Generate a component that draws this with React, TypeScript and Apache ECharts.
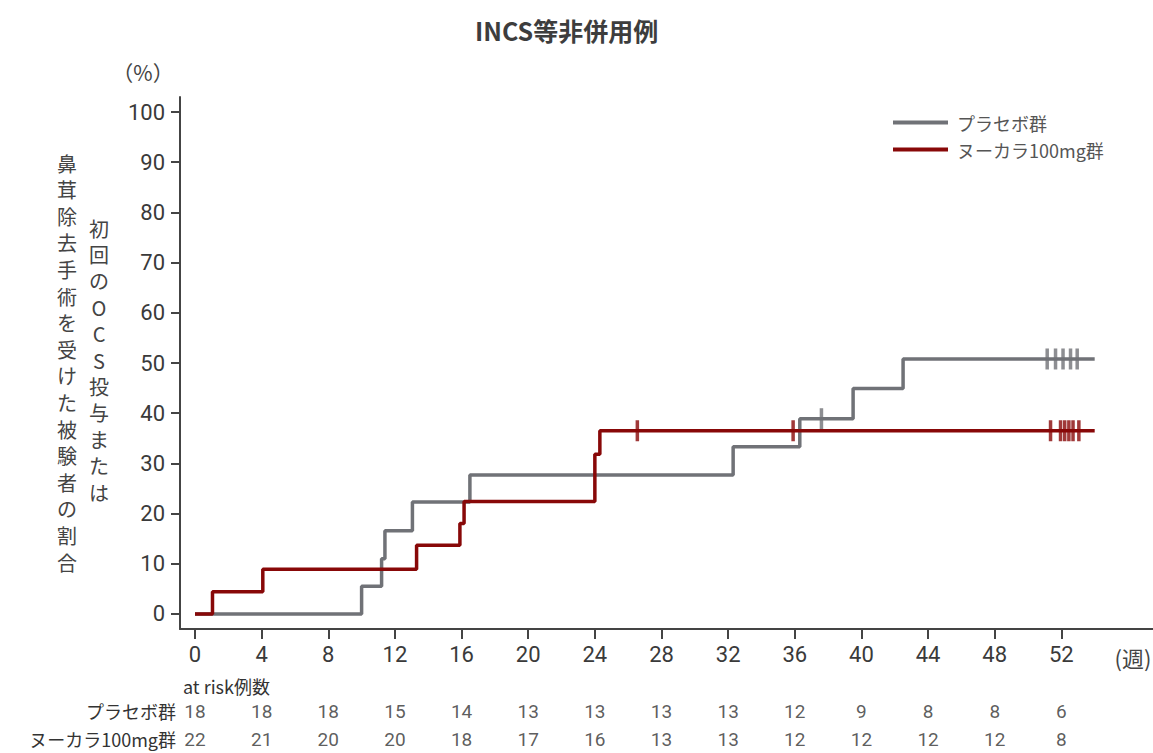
import React, { useEffect, useRef } from "react";
import * as echarts from "echarts";

const TITLE = "INCS等非併用例";
const SERIES_NAMES = ["プラセボ群", "ヌーカラ100mg群"];
const X_TICKS = [0, 4, 8, 12, 16, 20, 24, 28, 32, 36, 40, 44, 48, 52];
const Y_TICKS = [0, 10, 20, 30, 40, 50, 60, 70, 80, 90, 100];

// Kaplan-Meier style step points [week, %]
const placeboSteps: [number, number][] = [
  [0, 0], [10, 5.5], [11.2, 11.0], [11.4, 16.6], [13.05, 22.3], [16.5, 27.7],
  [32.3, 33.3], [36.3, 38.9], [39.5, 44.9], [42.5, 50.8], [54, 50.8],
];
const nucalaSteps: [number, number][] = [
  [0, 0], [1.05, 4.4], [4.07, 8.9], [13.3, 13.7], [15.9, 18.0], [16.15, 22.4],
  [24.0, 31.8], [24.3, 36.5], [54, 36.5],
];
const placeboCensor: [number, number][] = [
  [37.6, 38.9], [51.15, 50.8], [51.65, 50.8], [52.1, 50.8], [52.55, 50.8], [52.95, 50.8],
];
const nucalaCensor: [number, number][] = [
  [26.55, 36.5], [35.9, 36.5], [51.35, 36.5], [51.95, 36.5], [52.2, 36.5],
  [52.45, 36.5], [52.7, 36.5], [53.05, 36.5],
];

const riskWeeks = X_TICKS;
const placeboAtRisk = [18, 18, 18, 15, 14, 13, 13, 13, 13, 12, 9, 8, 8, 6];
const nucalaAtRisk = [22, 21, 20, 20, 18, 17, 16, 13, 13, 12, 12, 12, 12, 8];

const Y_TITLE_LEFT = "鼻茸除去手術を受けた被験者の割合".split("");
const Y_TITLE_RIGHT = ["初", "回", "の", "O", "C", "S", "投", "与", "ま", "た", "は"];

const GRAY = "#707277";
const RED = "#880808";
const FONT = "Roboto, 'Noto Sans CJK JP', sans-serif";
const JFONT = "'Noto Sans CJK JP', sans-serif";

export default function App() {
  const ref = useRef<HTMLDivElement>(null);
  useEffect(() => {
    if (!ref.current) return;
    const chart = echarts.init(ref.current, undefined, { renderer: "svg" });
    const riskData: any[] = [];
    riskWeeks.forEach((w, i) => {
      riskData.push([w, SERIES_NAMES[0], placeboAtRisk[i]]);
      riskData.push([w, SERIES_NAMES[1], nucalaAtRisk[i]]);
    });
    const verticalChars = (chars: string[], x: number, yCenter0: number, pitch: number) =>
      chars.map((c, i) => ({
        type: "text",
        x,
        y: yCenter0 + i * pitch,
        style: {
          text: c, font: `20px ${JFONT}`, fill: "#444",
          textAlign: "center", textVerticalAlign: "middle",
        },
      }));
    chart.setOption({
      animation: false,
      title: {
        text: TITLE,
        left: 470,
        top: 12,
        textStyle: { fontSize: 25, fontWeight: "bold", color: "#3d3d3d", fontFamily: JFONT },
      },
      legend: {
        orient: "vertical",
        left: 888,
        top: 107,
        itemWidth: 55,
        itemHeight: 4,
        itemGap: 6,
        icon: "rect",
        data: SERIES_NAMES,
        textStyle: { fontSize: 18, color: "#555", fontFamily: JFONT, lineHeight: 21, padding: [0, 0, 0, 4] },
      },
      grid: [
        { left: 180, right: 0, top: 97, height: 532 },
        { left: 180, right: 0, top: 697, height: 60 },
      ],
      xAxis: [
        {
          type: "value", gridIndex: 0, min: -0.9, max: 57.5,
          splitLine: { show: false },
          axisLine: { show: true, onZero: false, lineStyle: { color: "#444", width: 2 } },
          axisTick: { show: true, customValues: X_TICKS, length: 10, lineStyle: { color: "#444", width: 2 } },
          axisLabel: { customValues: X_TICKS, fontSize: 22, color: "#3a3a3a", margin: 14, fontFamily: FONT },
        },
        {
          type: "value", gridIndex: 1, min: -0.9, max: 57.5,
          show: false,
        },
      ],
      yAxis: [
        {
          type: "value", gridIndex: 0, min: -3, max: 103,
          splitLine: { show: false },
          axisLine: { show: true, onZero: false, lineStyle: { color: "#444", width: 2 } },
          axisTick: { show: true, customValues: Y_TICKS, length: 9, lineStyle: { color: "#444", width: 2 } },
          axisLabel: { customValues: Y_TICKS, fontSize: 22, color: "#3a3a3a", margin: 15, fontFamily: FONT },
        },
        {
          type: "category", gridIndex: 1, inverse: true,
          data: SERIES_NAMES,
          axisLine: { show: false },
          axisTick: { show: false },
          axisLabel: { fontSize: 18, color: "#333", margin: 4, fontFamily: JFONT },
        },
      ],
      series: [
        {
          name: SERIES_NAMES[0], type: "line", step: "end", data: placeboSteps,
          symbol: "none", lineStyle: { color: GRAY, width: 3.5 }, itemStyle: { color: GRAY }, z: 2,
        },
        {
          name: SERIES_NAMES[1], type: "line", step: "end", data: nucalaSteps,
          symbol: "none", lineStyle: { color: RED, width: 3.5 }, itemStyle: { color: RED }, z: 3,
        },
        {
          name: "placeboCensor", type: "scatter", data: placeboCensor,
          symbol: "rect", symbolSize: [3.5, 21], itemStyle: { color: GRAY }, z: 2,
        },
        {
          name: "nucalaCensor", type: "scatter", data: nucalaCensor,
          symbol: "rect", symbolSize: [3.5, 21], itemStyle: { color: RED }, z: 3,
        },
        {
          name: "atRisk", type: "scatter", xAxisIndex: 1, yAxisIndex: 1,
          data: riskData, symbolSize: 0,
          label: {
            show: true, position: "inside",
            formatter: (p: any) => String(p.data[2]),
            fontSize: 19, color: "#333", fontFamily: FONT,
          },
        },
      ],
      graphic: [
        {
          type: "text", left: 183, top: 677,
          style: { text: "at risk例数", font: `18px ${JFONT}`, fill: "#333" },
        },
        {
          type: "text", x: 143, y: 72,
          style: { text: "（%）", fill: "#444", font: `21px ${JFONT}`, textAlign: "center", textVerticalAlign: "middle" },
        },
        {
          type: "text", x: 1133, y: 657,
          style: { text: "(週)", fill: "#444", font: `22px ${JFONT}`, textAlign: "center", textVerticalAlign: "middle" },
        },
        ...verticalChars(Y_TITLE_LEFT, 67, 163, 26.6),
        ...verticalChars(Y_TITLE_RIGHT, 99, 228, 26.4),
      ],
    });
    return () => chart.dispose();
  }, []);
  return <div ref={ref} style={{ position: "absolute", left: 0, top: 0, width: 1153, height: 753 }} />;
}
